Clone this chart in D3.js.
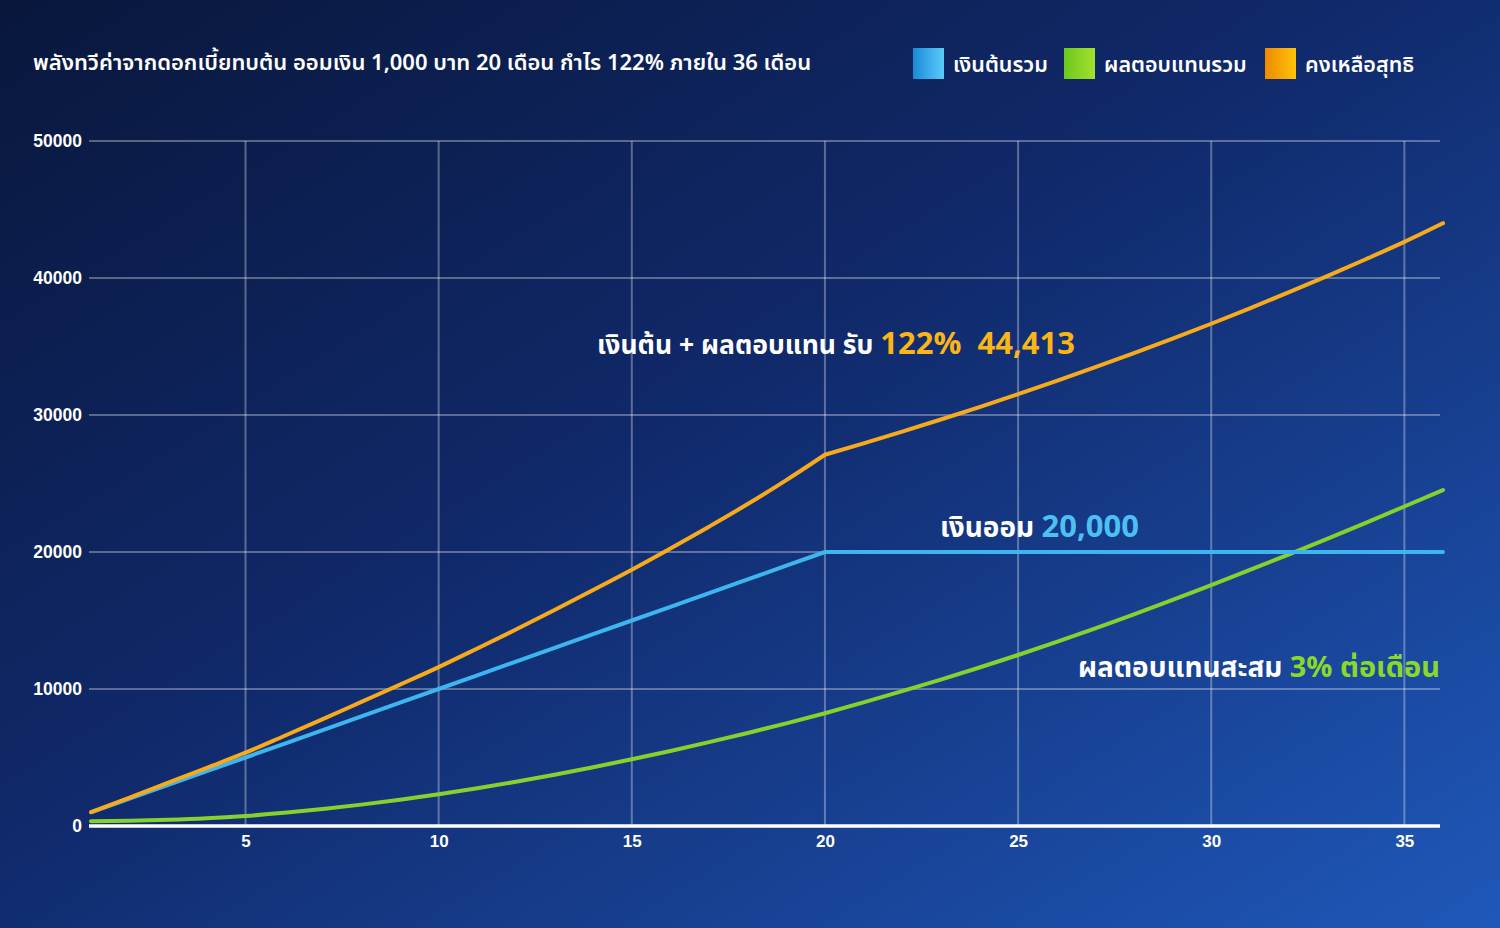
<!DOCTYPE html>
<html><head><meta charset="utf-8">
<script src="https://cdn.jsdelivr.net/npm/d3@7/dist/d3.min.js"></script>
<style>
html,body{margin:0;padding:0;background:#0b1a44;}
svg{display:block;}
text{font-family:"Noto Sans Thai","Noto Sans","DejaVu Sans",sans-serif;}
</style></head>
<body>
<svg id="chart" width="1500" height="928"></svg>
<script>
// ---- data ----
const months = d3.range(1, 37);
const principal = [1000,2000,3000,4000,5000,6000,7000,8000,9000,10000,11000,12000,13000,14000,15000,16000,17000,18000,19000,20000,
  20000,20000,20000,20000,20000,20000,20000,20000,20000,20000,20000,20000,20000,20000,20000,20000];
const returns = [340,380,450,560,730,960,1240,1560,1910,2310,2750,3230,3740,4290,4870,5480,6120,6790,7490,8230,
  9020,9840,10690,11570,12480,13440,14430,15450,16500,17590,18690,19810,20960,22130,23320,24525];
const total = [1020,2080,3160,4250,5350,6570,7800,9060,10320,11600,12960,14340,15760,17220,18700,20250,21850,23500,25250,27100,
  27930,28790,29670,30580,31520,32490,33490,34510,35570,36660,37790,38950,40140,41370,42640,44000];
const xTicks = [5,10,15,20,25,30,35];
const yTicks = [0,10000,20000,30000,40000,50000];
const title = "พลังทวีค่าจากดอกเบี้ยทบต้น ออมเงิน 1,000 บาท 20 เดือน กำไร 122% ภายใน 36 เดือน";
const legendLabels = ["เงินต้นรวม","ผลตอบแทนรวม","คงเหลือสุทธิ"];
const colors = {blue:"#3db5ee", green:"#86d12b", orange:"#f6aa1c"};

const svg = d3.select("#chart");
const defs = svg.append("defs");
const bg = defs.append("linearGradient").attr("id","bg").attr("x1","0").attr("y1","0").attr("x2","1").attr("y2","1");
bg.append("stop").attr("offset","0%").attr("stop-color","#09173c");
bg.append("stop").attr("offset","45%").attr("stop-color","#10296a");
bg.append("stop").attr("offset","100%").attr("stop-color","#1f58ba");
svg.append("rect").attr("width",1500).attr("height",928).attr("fill","url(#bg)");

const gradSpecs = [["gBlue","#1a8ad8","#5ccbf9"],["gGreen","#6cc81e","#a3e12c"],["gOrange","#ee8a02","#ffc20a"]];
gradSpecs.forEach(([id,a,b])=>{
  const g = defs.append("linearGradient").attr("id",id).attr("x1","0").attr("x2","1").attr("y1","0").attr("y2","0");
  g.append("stop").attr("offset","0%").attr("stop-color",a);
  g.append("stop").attr("offset","100%").attr("stop-color",b);
});

const x = d3.scaleLinear().domain([1,36]).range([91,1443]);
const y = d3.scaleLinear().domain([0,50000]).range([826,141]);
const left = 89, right = 1440;

// grid
const grid = svg.append("g").attr("stroke","rgba(255,255,255,0.32)").attr("stroke-width",2);
grid.selectAll("line.h").data(yTicks.filter(d=>d>0)).join("line").attr("class","h")
  .attr("x1",left).attr("x2",right).attr("y1",d=>y(d)).attr("y2",d=>y(d));
grid.selectAll("line.v").data(xTicks).join("line").attr("class","v")
  .attr("x1",d=>x(d)).attr("x2",d=>x(d)).attr("y1",y(50000)).attr("y2",y(0));

// axes
const yAxis = svg.append("g").attr("transform",`translate(${left},0)`)
  .call(d3.axisLeft(y).tickValues(yTicks).tickFormat(d3.format("d")).tickSize(0).tickPadding(7));
yAxis.select(".domain").remove();
yAxis.selectAll("text").attr("fill","#fff").attr("font-size",17.5).attr("font-weight","bold")
  .style("font-family","'Liberation Sans',Arial,sans-serif");

const xAxis = svg.append("g").attr("transform",`translate(0,${y(0)})`)
  .call(d3.axisBottom(x).tickValues(xTicks).tickFormat(d3.format("d")).tickSize(0).tickPadding(9));
xAxis.select(".domain").remove();
xAxis.selectAll("text").attr("fill","#fff").attr("font-size",17).attr("font-weight","bold")
  .style("font-family","'Liberation Sans',Arial,sans-serif");
svg.append("line").attr("x1",left).attr("x2",right).attr("y1",y(0)).attr("y2",y(0))
  .attr("stroke","#fff").attr("stroke-width",3.5);

// lines
const lineLin = d3.line().x((d,i)=>x(months[i])).y(d=>y(d));
const lineSmooth = d3.line().x((d,i)=>x(months[i])).y(d=>y(d)).curve(d3.curveMonotoneX);
[[returns,colors.green,lineSmooth],[principal,colors.blue,lineLin],[total,colors.orange,lineSmooth]].forEach(([s,c,gen],k)=>{
  if (k===2) {
    // sharp kink at month 20: draw two smooth pieces
    const a = s.slice(0,20).map((v,i)=>[x(months[i]),y(v)]);
    const b = s.slice(19).map((v,i)=>[x(months[i+19]),y(v)]);
    const g2 = d3.line().curve(d3.curveMonotoneX);
    svg.append("path").attr("d",g2(a) + g2(b)).attr("fill","none").attr("stroke",c)
      .attr("stroke-width",4).attr("stroke-linecap","round").attr("stroke-linejoin","round");
  } else {
    svg.append("path").datum(s).attr("d",gen).attr("fill","none").attr("stroke",c)
      .attr("stroke-width",4).attr("stroke-linecap","round").attr("stroke-linejoin","round");
  }
});

// title
svg.append("text").attr("x",33).attr("y",70).attr("fill","#fff").attr("font-size",22).attr("font-weight",600)
  .text(title);

// legend
const legX = [913,1064,1265];
const legG = ["gBlue","gGreen","gOrange"];
legendLabels.forEach((l,i)=>{
  svg.append("rect").attr("x",legX[i]).attr("y",48).attr("width",31).attr("height",31).attr("fill",`url(#${legG[i]})`);
  svg.append("text").attr("x",legX[i]+40).attr("y",72).attr("fill","#fff").attr("font-size",21.5).attr("font-weight",600).text(l);
});

// annotations
const a1 = svg.append("text").attr("x",597).attr("y",354).attr("font-weight","bold");
a1.append("tspan").attr("fill","#fff").attr("font-size",26.5).text("เงินต้น + ผลตอบแทน รับ\u00a0");
a1.append("tspan").attr("fill","#fbb516").attr("font-size",31).text("122%\u00a0\u00a044,413");

const a2 = svg.append("text").attr("x",940).attr("y",537).attr("font-weight","bold");
a2.append("tspan").attr("fill","#fff").attr("font-size",28).text("เงินออม\u00a0");
a2.append("tspan").attr("fill","#4cc0f5").attr("font-size",31).text("20,000");

const a3 = svg.append("text").attr("x",1440).attr("y",677).attr("text-anchor","end").attr("font-weight","bold");
a3.append("tspan").attr("fill","#fff").attr("font-size",28).text("ผลตอบแทนสะสม\u00a0");
a3.append("tspan").attr("fill","#8ad92a").attr("font-size",29).text("3% ต่อเดือน");
</script>
</body></html>
